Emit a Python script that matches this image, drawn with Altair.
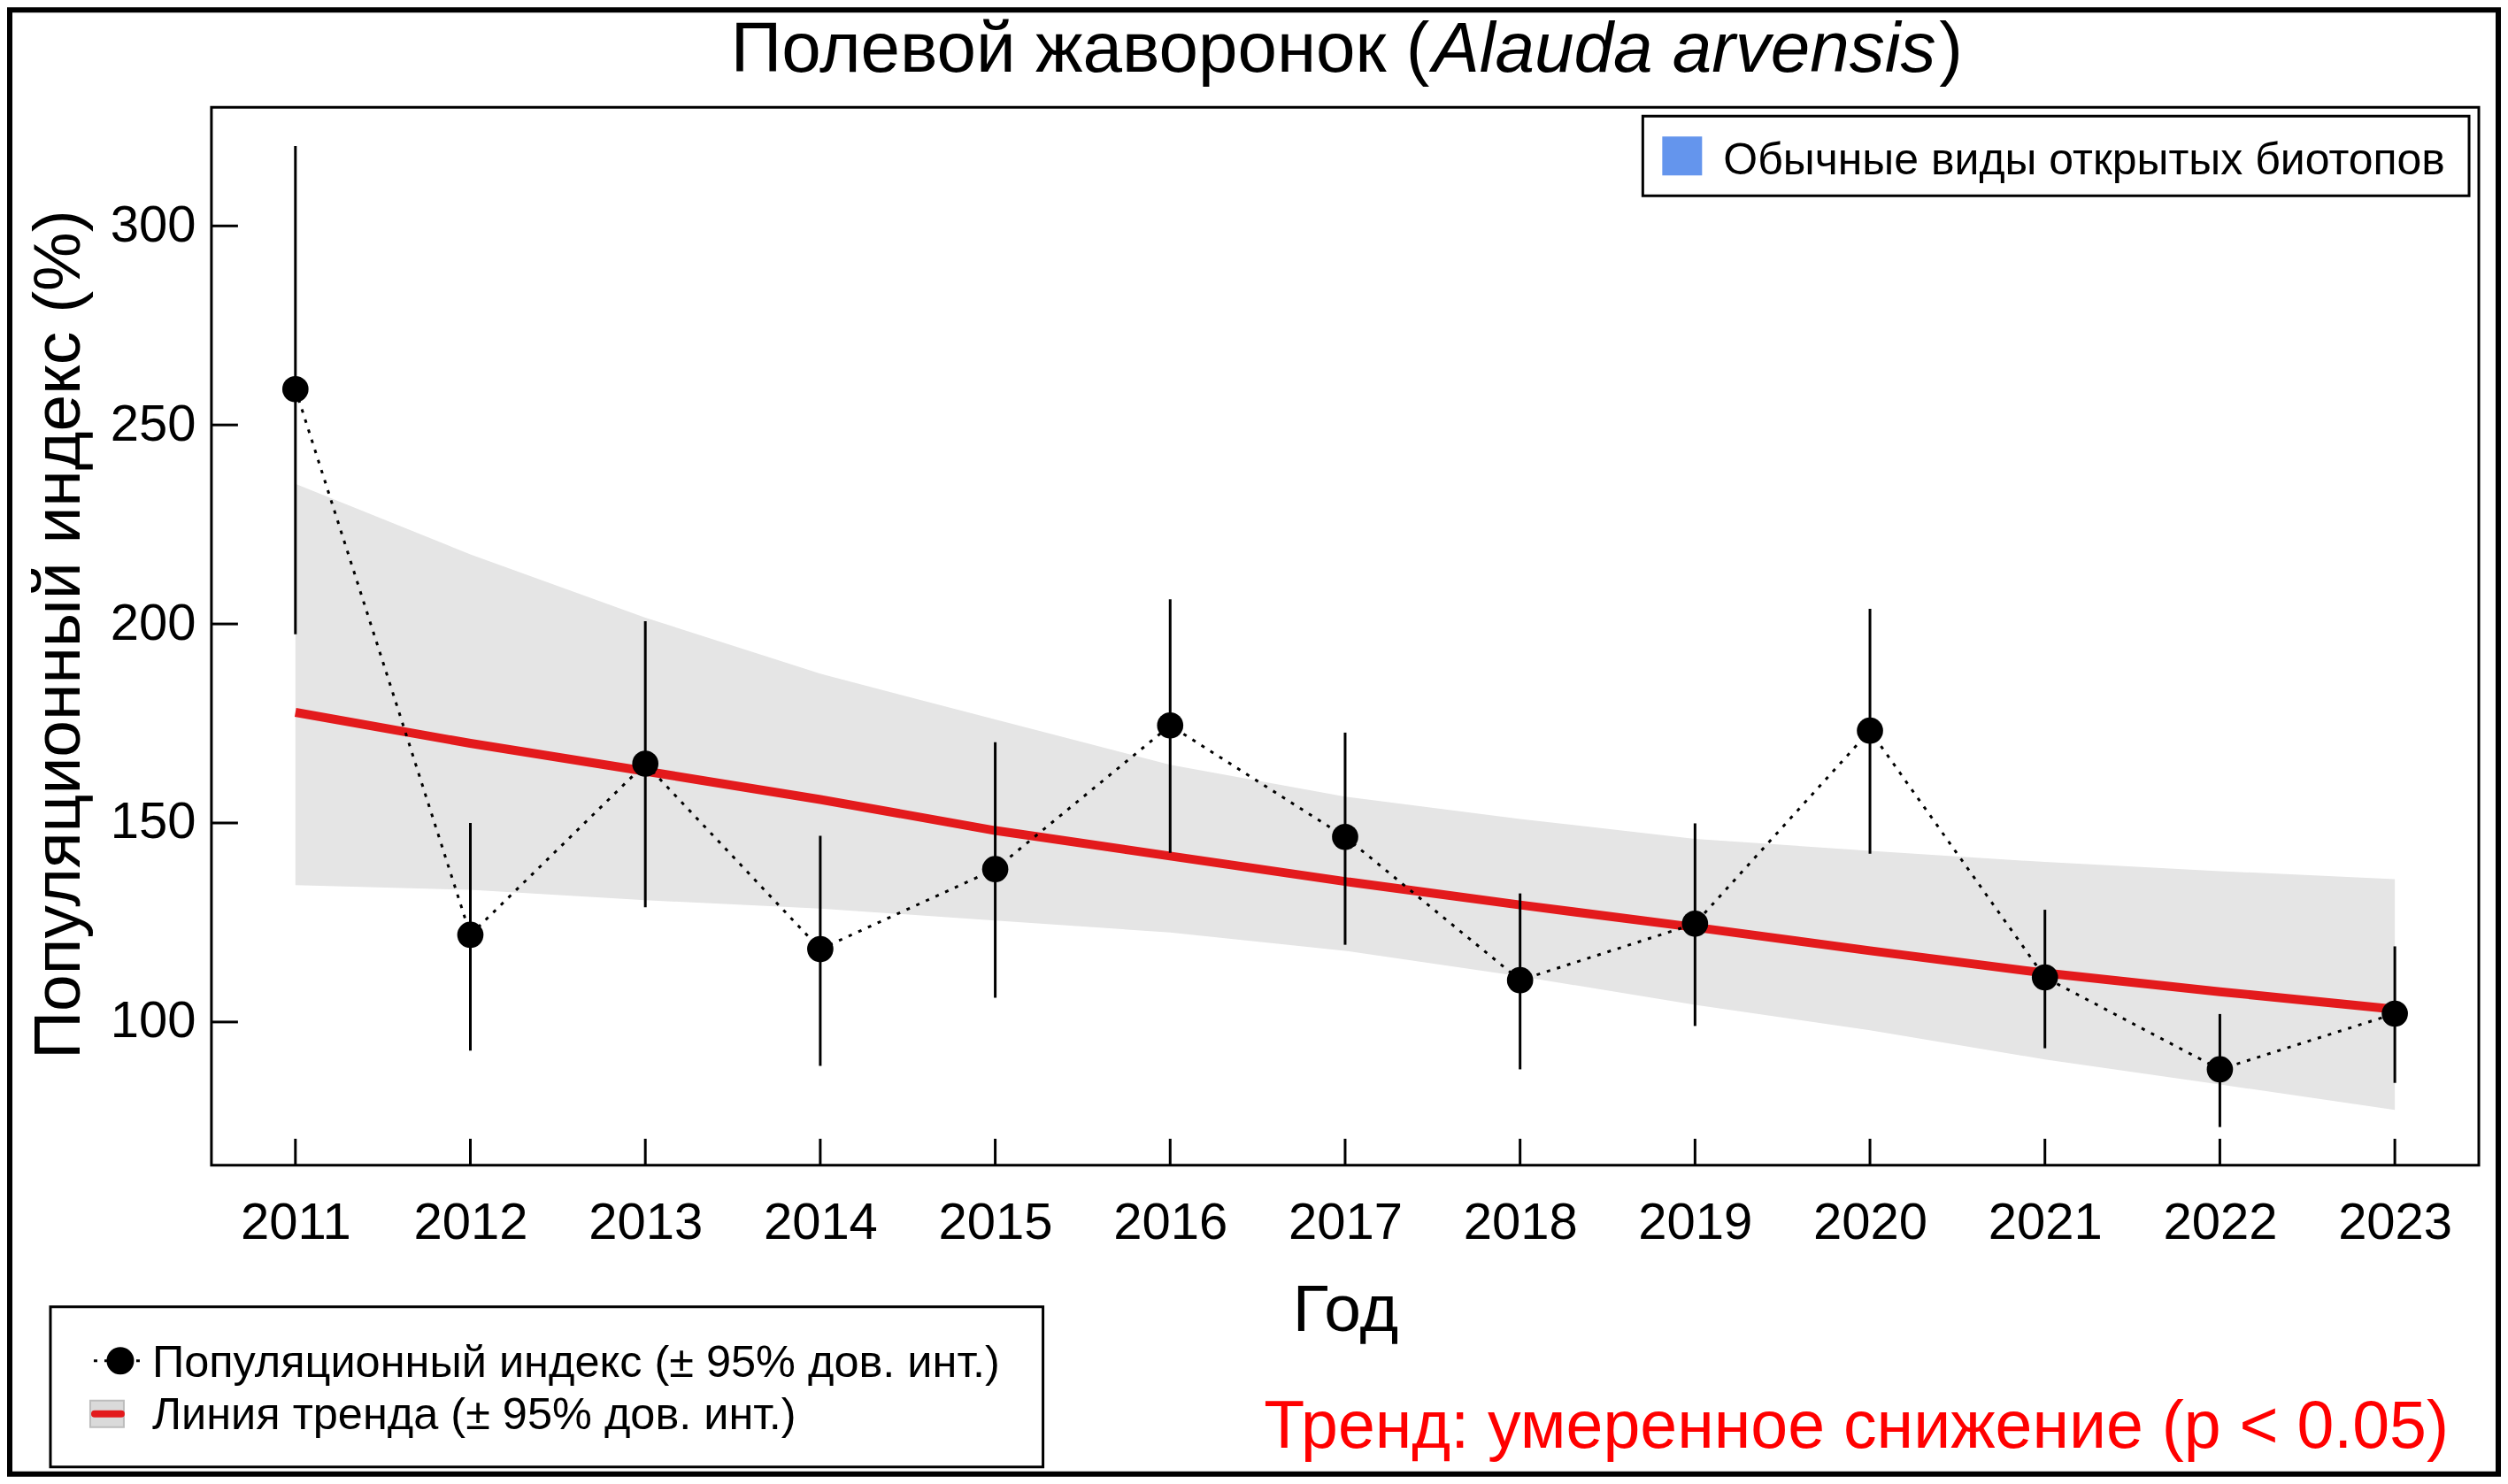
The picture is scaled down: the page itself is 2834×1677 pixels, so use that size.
import altair as alt
import pandas as pd

# ---------------- data ----------------
years = [2011, 2012, 2013, 2014, 2015, 2016, 2017, 2018, 2019, 2020, 2021, 2022, 2023]
index_vals = [259.0, 121.9, 164.9, 118.3, 138.4, 174.5, 146.5, 110.5, 124.7, 173.2, 111.2, 88.1, 102.1]
ci_low = [197.4, 92.8, 128.8, 89.0, 106.1, 142.5, 119.4, 88.1, 99.0, 142.3, 93.4, 73.6, 84.7]
ci_high = [320.1, 150.0, 200.7, 146.8, 170.3, 206.2, 172.7, 132.3, 149.9, 203.8, 128.2, 102.0, 119.0]
trend = [177.8, 170.0, 163.0, 155.9, 148.1, 141.7, 135.3, 129.4, 123.8, 117.9, 112.3, 107.6, 103.2]
trend_low = [134.4, 133.2, 130.6, 128.5, 125.5, 122.5, 117.9, 111.5, 104.3, 97.9, 90.6, 84.3, 77.9]
trend_high = [235.2, 217.5, 201.6, 187.5, 176.0, 164.6, 156.6, 151.0, 146.0, 143.0, 140.2, 137.9, 135.9]
y_ticks = [100, 150, 200, 250, 300]

title_main = "Полевой жаворонок ("
title_latin = "Alauda arvensis"
title_close = ")"
x_title = "Год"
y_title = "Популяционный индекс (%)"
group_label = "Обычные виды открытых биотопов"
legend_index = "Популяционный индекс (± 95% дов. инт.)"
legend_trend = "Линия тренда (± 95% дов. инт.)"
trend_text = "Тренд: умеренное снижение (p < 0.05)"

df = pd.DataFrame({
    "year": years,
    "index": index_vals,
    "ci_low": ci_low,
    "ci_high": ci_high,
    "trend": trend,
    "trend_low": trend_low,
    "trend_high": trend_high,
})
ytick_df = pd.DataFrame({"v": y_ticks})
xtick_df = pd.DataFrame({"year": years})
one = pd.DataFrame({"k": [0]})

W, H = 2563, 1196
FONT = "Liberation Sans"

xs = alt.Scale(domain=[2010.52, 2023.48], zero=False, nice=False)
ys = alt.Scale(domain=[64.0, 329.8], zero=False, nice=False)

x_axis = alt.Axis(values=years, format="d", title=None, grid=False, domain=False,
                  ticks=False, tickSize=0, labelFontSize=58, labelFont=FONT,
                  labelColor="black", labelPadding=83, labelBaseline="alphabetic",
                  labelFlush=False, labelOverlap=False)
y_axis = alt.Axis(values=y_ticks, format="d", title=None, grid=False, domain=False,
                  ticks=False, tickSize=0, labelFontSize=58, labelFont=FONT,
                  labelColor="black", labelPadding=18, labelFlush=False,
                  labelOverlap=False)


def X(field="year"):
    return alt.X(f"{field}:Q", scale=xs, axis=x_axis)


def Y(field):
    return alt.Y(f"{field}:Q", scale=ys, axis=y_axis)


base = alt.Chart(df)

band = base.mark_area(color="#E5E5E5").encode(
    x=X(), y=Y("trend_high"), y2="trend_low:Q")
trend_line = base.mark_line(color="#E31A1C", strokeWidth=10).encode(
    x=X(), y=Y("trend"))
err = base.mark_rule(color="black", strokeWidth=3).encode(
    x=X(), y=Y("ci_low"), y2="ci_high:Q")
dotted = base.mark_line(color="black", strokeWidth=3, strokeDash=[4, 8]).encode(
    x=X(), y=Y("index"))
points = base.mark_circle(color="black", opacity=1, size=880).encode(
    x=X(), y=Y("index"))

ytick_rules = alt.Chart(ytick_df).mark_rule(color="black", strokeWidth=3).encode(
    y=alt.Y("v:Q", scale=ys, axis=y_axis), x=alt.value(0), x2=alt.value(30))
xtick_rules = alt.Chart(xtick_df).mark_rule(color="black", strokeWidth=3).encode(
    x=X(), y=alt.value(H - 30), y2=alt.value(H))


def txt(text, x, y, size, **kw):
    d = pd.DataFrame({"t": [text]})
    return alt.Chart(d).mark_text(font=FONT, fontSize=size, baseline="alphabetic", **kw).encode(
        x=alt.value(x), y=alt.value(y), text="t:N")


def box(x1, x2, y1, y2, **kw):
    return alt.Chart(one).mark_rect(**kw).encode(
        x=alt.value(x1), x2=alt.value(x2), y=alt.value(y1), y2=alt.value(y2))


# plot frame
plot_frame = box(0, W, 0, H, filled=False, stroke="black", strokeWidth=3)

# title
t1 = txt(title_main, 1377, -40, 80, align="right", color="black")
t2 = txt(title_latin, 1380, -40, 80, align="left", fontStyle="italic", color="black")
t3 = txt(title_close, 1953, -40, 80, align="left", color="black")

# axis titles
xt = txt(x_title, 1282, 1383, 75, align="center", color="black")
yt = txt(y_title, -149, 596, 75, align="center", angle=270, color="black")

# top-right group legend
g_box = box(1618, 2552, 10, 100, fill="white", stroke="black", strokeWidth=3)
g_sq = box(1640, 1685, 33, 77, fill="#6495ED")
g_txt = txt(group_label, 1709, 76, 50, align="left", color="black")

# bottom-left legend
l_box = box(-182, 940, 1356, 1537, fill="white", stroke="black", strokeWidth=3)
l_dots = alt.Chart(one).mark_rule(color="black", strokeWidth=3, strokeDash=[4, 8]).encode(
    x=alt.value(-133), x2=alt.value(-80), y=alt.value(1417))
l_pt = alt.Chart(one).mark_circle(color="black", opacity=1, size=960).encode(
    x=alt.value(-103), y=alt.value(1417))
l_txt1 = txt(legend_index, -67, 1435, 50.5, align="left", color="black")
l_rect = box(-137, -99, 1462, 1492, fill="#DADADA", stroke="#BDBDBD", strokeWidth=2)
l_red = alt.Chart(one).mark_rule(color="#E31A1C", strokeWidth=8, strokeCap="round").encode(
    x=alt.value(-132), x2=alt.value(-102), y=alt.value(1477))
l_txt2 = txt(legend_trend, -67, 1494, 50.5, align="left", color="black")

# trend statement
red_txt = txt(trend_text, 2529, 1515, 75.3, align="right", color="#FF0000")

# outer frame of the figure
frame = box(-228, 2585, -110, 1545, filled=False, stroke="black", strokeWidth=6)

chart = alt.layer(
    band, trend_line, err, dotted, points, ytick_rules, xtick_rules, plot_frame,
    t1, t2, t3, xt, yt,
    g_box, g_sq, g_txt,
    l_box, l_dots, l_pt, l_txt1, l_rect, l_red, l_txt2,
    red_txt, frame,
).properties(
    width=W, height=H,
    autosize=alt.AutoSizeParams(type="none"),
    padding={"left": 231, "top": 113, "right": 25, "bottom": 352},
    background="white",
).configure_view(
    strokeWidth=0
).configure(font=FONT)

chart.save("out.html", embed_options={"renderer": "svg", "actions": False})
